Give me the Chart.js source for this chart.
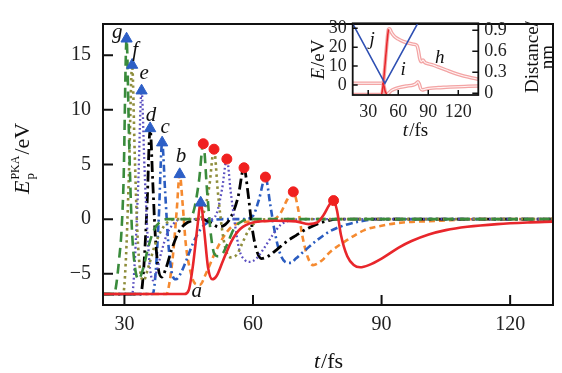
<!DOCTYPE html>
<html>
<head>
<meta charset="utf-8">
<script src="https://cdn.jsdelivr.net/npm/chart.js@4.4.0/dist/chart.umd.min.js"></script>
<style>
  html, body { margin: 0; padding: 0; background: #fff; }
  #wrap { position: relative; width: 562px; height: 373px; }
  #main { position: absolute; left: 0; top: 0; }
  #inset { position: absolute; left: 290px; top: 0; }
</style>
</head>
<body>
<div id="wrap">
  <canvas id="main" width="562" height="373"></canvas>
  <canvas id="inset" width="272" height="145"></canvas>
</div>
<script>
// ---- main plot data (t in fs, E in eV) ----
const tA = [25,44,45,46,47,47.8,48.6,49.5,50.5,51.5,53,55,57,60,65,70,73,75,76.5,77.8,78.8,79.6,80.5,82,83.5,85,87,90,94,97,101,105,110,117,124,130];
const eA = [-6.85,-6.85,-6.5,-4.2,-0.8,1.5,-1,-4.4,-5.5,-5.2,-3.8,-2,-0.9,-0.3,-0.15,-0.2,-0.45,-0.3,0.4,1.3,1.7,0.8,-1.4,-3.4,-4.2,-4.4,-4.2,-3.6,-2.6,-2,-1.4,-1,-0.7,-0.45,-0.3,-0.22];

const tB = [25,39.8,40.6,41.4,42.2,42.9,43.6,44.3,45.3,46.5,47.6,49,51,53,55,58,62,65,66.5,68,69.4,70.5,71.5,72.8,74,76,78,82,86,90,95,100,106,112,130];
const eB = [-6.85,-6.85,-5.6,-3,0.8,4.1,1.3,-2.2,-4.6,-5.9,-6.0,-5.0,-3.2,-1.7,-0.7,-0.25,-0.2,0,0.6,1.8,2.5,1,-1.5,-3.5,-4.2,-3.8,-3.0,-1.9,-1.0,-0.6,-0.3,-0.2,-0.1,0,0];

const tC = [25,36.6,37.3,38,38.8,39.5,40.2,41,42,43.2,44.6,46,48,50,53,58,60,61.4,62.9,64,65,66.2,67.5,68.8,70,72,75,78,81,85,90,130];
const eC = [-6.85,-6.85,-4.8,0,7.0,2.5,-2,-4.8,-5.5,-4.9,-3.6,-2.2,-0.8,-0.2,0,0,0.3,1.8,3.85,1.4,-1,-3,-3.9,-4.0,-3.6,-2.9,-1.9,-1.1,-0.6,-0.2,0,0];

const tD = [25,33.8,34.5,35.3,36.0,36.6,37.2,37.9,38.7,39.6,41,42.5,44,46,48,50,52,53.5,55,56.5,57.9,58.8,59.8,60.8,62,63.5,65.5,68,70,72.5,76,80,130];
const eD = [-6.85,-6.85,-4.5,1.5,8.3,3.5,-1.5,-4.5,-5.3,-4.6,-2.8,-1.3,-0.5,-0.1,0,-0.3,-0.7,-0.5,0.3,2,4.7,2.5,-0.8,-2.8,-3.6,-3.4,-2.8,-2,-1.5,-0.9,-0.3,0,0];

const tE = [25,31.8,32.4,33.2,34.0,34.7,35.4,36.0,36.7,37.5,38.7,40,41.5,43,50,51.5,52.8,53.9,54.8,55.8,56.8,58,59.3,60.8,62.5,64.5,66.5,69,72,130];
const eE = [-6.85,-6.85,-4,3,11.75,4.5,-1.5,-4.6,-5.6,-4.8,-2.9,-1.3,-0.4,0,0,0.5,2.8,5.5,2.5,-0.5,-2.8,-3.7,-3.9,-3.6,-2.7,-1.5,-0.5,-0.1,0,0];

const tF = [25,29.7,30.3,31.0,31.8,32.4,33.0,33.7,34.5,35.5,37,38.5,40,42,47,48.5,49.8,50.9,51.8,52.8,53.8,55,56.3,57.5,59,61,64,130];
const eF = [-6.85,-6.85,-4,3.5,14.1,6,-1,-4.8,-5.6,-4.5,-2.5,-1.1,-0.3,0,0,0.6,3,6.4,2.5,-1,-3.0,-3.5,-3.2,-2.2,-1,-0.2,0,0];

const tG = [25,27.6,28.2,28.8,29.3,29.8,30.5,31.1,31.7,32.4,33.3,34.3,35.6,37,38.5,40,45,46.2,47.4,48.4,49.3,50.2,51,52,53,54.3,55.5,57,59,130];
const eG = [-6.85,-6.85,-5.7,-3.5,-1.2,3.5,16.5,7,-0.5,-4.2,-5.5,-4.6,-2.5,-0.9,-0.2,0,0,0.8,3.5,6.9,2.5,-1.5,-3.2,-3.4,-3.1,-2.0,-0.9,-0.3,0,0];

// first collision peaks (triangles) and second collision peaks (circles), order g..a
const peak1T = [30.5, 31.8, 34.0, 36.0, 38.8, 42.9, 47.8];
const peak1E = [16.5, 14.1, 11.75, 8.3, 7.0, 4.1, 1.5];
const peak2T = [48.4, 50.9, 53.9, 57.9, 62.9, 69.4, 78.8];
const peak2E = [6.9, 6.4, 5.5, 4.7, 3.85, 2.5, 1.7];

const curveNames = ['g', 'f', 'e', 'd', 'c', 'b', 'a'];
const labelT = [28.3, 32.5, 34.6, 36.2, 39.5, 43.2, 46.9];
const labelE = [17.1, 15.4, 13.3, 9.5, 8.4, 5.7, -6.65];

const xTicks = [30, 60, 90, 120];
const yTicks = [-5, 0, 5, 10, 15];

// ---- inset data ----
const tH = [14.5,43.5,45,47,49,50.2,51.5,53,56,60,65,70,75,78.5,80,81.5,83,84.7,86.5,90,95,100,108,115,122,130,140];
const eH = [-5,-5,0,12,24,29.5,29.8,28,25.8,24.3,23,22.2,21.6,21,18.5,14,12.3,13.2,12,11.2,10.5,9.5,7.9,6.5,5.3,4.2,3];
const tI = [14.5,44,45.5,47,48.5,50,53,57,62,68,75,78,79.7,81,82.5,84,87,92,100,108,120,130,140];
const eI = [0.9,0.9,0,-3.5,-5,-4.5,-3,-2,-1.2,-0.6,0,0.8,1.7,0.5,-2,-2.6,-2.2,-1.7,-1.4,-1.2,-0.9,-0.7,-0.5];
const tJ = [14.3, 46.7, 79.5];
const dJ = [1.0, 0.14, 1.0];

const insetXTicks = [30, 60, 90, 120];
const insetETicks = [0, 10, 20, 30];
const insetDTicks = [0, 0.3, 0.6, 0.9];

function pts(t, v) { return t.map((x, i) => ({ x: x, y: v[i] })); }

const SERIF = "'Liberation Serif', 'DejaVu Serif', serif";

function lineSet(t, v, color, dash, width, order) {
    return {
        data: pts(t, v),
        borderColor: color,
        borderWidth: width,
        borderDash: dash,
        pointRadius: 0,
        fill: false,
        cubicInterpolationMode: 'monotone',
        order: order
    };
}

// frame and inward ticks
function drawFrame(ctx, area, lw) {
    ctx.save();
    ctx.strokeStyle = '#111';
    ctx.lineWidth = lw;
    ctx.strokeRect(area.left, area.top, area.right - area.left, area.bottom - area.top);
    ctx.restore();
}
function drawTicks(ctx, scale, values, len, lw, side) {
    ctx.save();
    ctx.strokeStyle = '#111';
    ctx.lineWidth = lw;
    ctx.beginPath();
    values.forEach(v => {
        const p = scale.getPixelForValue(v);
        if (side === 'bottom') { ctx.moveTo(p, scale.top); ctx.lineTo(p, scale.top - len); }
        if (side === 'left') { ctx.moveTo(scale.right, p); ctx.lineTo(scale.right + len, p); }
        if (side === 'right') { ctx.moveTo(scale.left, p); ctx.lineTo(scale.left - len, p); }
    });
    ctx.stroke();
    ctx.restore();
}
function italicThenPlain(ctx, x, y, ital, plain, size) {
    ctx.font = 'italic ' + size + 'px ' + SERIF;
    ctx.textBaseline = 'alphabetic';
    ctx.textAlign = 'left';
    const w1 = ctx.measureText(ital).width;
    ctx.font = size + 'px ' + SERIF;
    const w2 = ctx.measureText(plain).width;
    const x0 = x - (w1 + w2) / 2;
    ctx.font = 'italic ' + size + 'px ' + SERIF;
    ctx.fillText(ital, x0, y);
    ctx.font = size + 'px ' + SERIF;
    ctx.fillText(plain, x0 + w1 + 1, y);
}

const mainDecor = {
    id: 'mainDecor',
    afterDraw(chart) {
        const ctx = chart.ctx, a = chart.chartArea;
        const xs = chart.scales.x, ys = chart.scales.y;
        drawFrame(ctx, a, 2);
        drawTicks(ctx, xs, xTicks, 10, 2, 'bottom');
        drawTicks(ctx, ys, yTicks, 10, 2, 'left');

        // curve letters
        ctx.save();
        ctx.fillStyle = '#111';
        ctx.font = 'italic 21px ' + SERIF;
        ctx.textAlign = 'center';
        ctx.textBaseline = 'middle';
        curveNames.forEach((n, i) => {
            ctx.fillText(n, xs.getPixelForValue(labelT[i]), ys.getPixelForValue(labelE[i]));
        });
        ctx.restore();

        // x title
        ctx.save();
        ctx.fillStyle = '#111';
        italicThenPlain(ctx, 328, 368, 't', '/fs', 22);
        ctx.restore();

        // y title: E_p^PKA/eV rotated
        ctx.save();
        ctx.fillStyle = '#111';
        ctx.translate(29, 194);
        ctx.rotate(-Math.PI / 2);
        ctx.textBaseline = 'alphabetic';
        ctx.font = 'italic 22px ' + SERIF;
        ctx.fillText('E', 0, 0);
        let x = ctx.measureText('E').width + 1;
        ctx.font = '12px ' + SERIF;
        ctx.fillText('PKA', x, -10);
        const wSup = ctx.measureText('PKA').width;
        ctx.font = '13px ' + SERIF;
        ctx.fillText('p', x, 5);
        x += wSup + 1;
        ctx.font = '22px ' + SERIF;
        ctx.fillText('/eV', x, 0);
        ctx.restore();
    }
};

const mainChart = new Chart(document.getElementById('main').getContext('2d'), {
    type: 'line',
    data: {
        datasets: [
            lineSet(tG, eG, '#3a8b3c', [10, 6], 2.6, 2),
            lineSet(tF, eF, '#8e8d3b', [2.5, 3.5], 2.6, 3),
            lineSet(tE, eE, '#5a4fc0', [1.8, 2.6], 2.3, 4),
            lineSet(tD, eD, '#000000', [11, 4, 2.5, 4], 2.8, 5),
            lineSet(tC, eC, '#2a5cc0', [7, 3.5, 2, 3.5], 2.6, 6),
            lineSet(tB, eB, '#f58a30', [6, 4], 2.6, 7),
            lineSet(tA, eA, '#e8262b', [], 2.6, 1),
            {
                data: pts(peak1T, peak1E), showLine: false,
                pointStyle: 'triangle', pointRadius: 6.5,
                backgroundColor: '#2d5fc6', borderColor: '#2d5fc6', order: 0
            },
            {
                data: pts(peak2T, peak2E), showLine: false,
                pointStyle: 'circle', pointRadius: 5,
                backgroundColor: '#f0201f', borderColor: '#f0201f', order: 0
            }
        ]
    },
    options: {
        responsive: false,
        animation: false,
        layout: { padding: { top: 6, right: 9, left: 0, bottom: 0 } },
        plugins: { legend: { display: false }, tooltip: { enabled: false } },
        scales: {
            x: {
                type: 'linear', min: 25, max: 130,
                afterBuildTicks: s => { s.ticks = xTicks.map(v => ({ value: v })); },
                afterFit: s => { s.height = 68; },
                grid: { display: false, drawTicks: false },
                border: { display: false },
                ticks: { color: '#222', padding: 8, maxRotation: 0, autoSkip: false, font: { family: SERIF, size: 20 } }
            },
            y: {
                type: 'linear', min: -7.85, max: 17.85,
                afterBuildTicks: s => { s.ticks = yTicks.map(v => ({ value: v })); },
                afterFit: s => { s.width = 103; },
                grid: { display: false, drawTicks: false },
                border: { display: false },
                ticks: {
                    color: '#222', padding: 12, autoSkip: false, font: { family: SERIF, size: 20 },
                    callback: v => (v < 0 ? '\u2212' + Math.abs(v) : String(v))
                }
            }
        }
    },
    plugins: [mainDecor]
});

// ---- inset ----
const insetDecor = {
    id: 'insetDecor',
    afterDraw(chart) {
        const ctx = chart.ctx, a = chart.chartArea;
        const xs = chart.scales.x, ye = chart.scales.yE, yd = chart.scales.yD;
        drawFrame(ctx, a, 1.8);
        drawTicks(ctx, xs, insetXTicks, 5, 1.5, 'bottom');
        drawTicks(ctx, ye, insetETicks, 5, 1.5, 'left');
        drawTicks(ctx, yd, insetDTicks, 6, 1.5, 'right');

        ctx.save();
        ctx.fillStyle = '#111';
        ctx.font = 'italic 19px ' + SERIF;
        ctx.textAlign = 'center';
        ctx.textBaseline = 'middle';
        ctx.fillText('j', xs.getPixelForValue(34), ye.getPixelForValue(23.8));
        ctx.fillText('h', xs.getPixelForValue(101.5), ye.getPixelForValue(14.1));
        ctx.fillText('i', xs.getPixelForValue(65), ye.getPixelForValue(7.9));
        ctx.restore();

        ctx.save();
        ctx.fillStyle = '#111';
        italicThenPlain(ctx, 125, 136, 't', '/fs', 19);
        ctx.restore();

        // left title E/eV
        ctx.save();
        ctx.fillStyle = '#111';
        ctx.translate(34, 60);
        ctx.rotate(-Math.PI / 2);
        italicThenPlain(ctx, 0, 0, 'E', '/eV', 19);
        ctx.restore();

        // right title Distance/ nm
        ctx.save();
        ctx.fillStyle = '#111';
        ctx.font = '19px ' + SERIF;
        ctx.textAlign = 'center';
        ctx.textBaseline = 'middle';
        ctx.translate(243, 57);
        ctx.rotate(-Math.PI / 2);
        ctx.fillText('Distance/', 0, 0);
        ctx.fillText('nm', 0, 15);
        ctx.restore();
    }
};

function within(t, v, lo, hi) {
    const tt = [], vv = [];
    t.forEach((x, i) => { if (x >= lo && x <= hi) { tt.push(x); vv.push(v[i]); } });
    return pts(tt, vv);
}

function tube(t, v, color, width, order) {
    return {
        data: pts(t, v), yAxisID: 'yE',
        borderColor: color, borderWidth: width, pointRadius: 0,
        cubicInterpolationMode: 'monotone', order: order
    };
}

const insetChart = new Chart(document.getElementById('inset').getContext('2d'), {
    type: 'line',
    data: {
        datasets: [
            tube(tH, eH, '#f3a4a4', 3.6, 6),
            tube(tH, eH, '#fff3f3', 1.1, 5),
            tube(tI, eI, '#f3a4a4', 3.6, 4),
            tube(tI, eI, '#fff3f3', 1.1, 3),
            { data: within(tH, eH, 43.5, 50.2), yAxisID: 'yE', borderColor: '#e8262b', borderWidth: 1.6, pointRadius: 0, order: 2 },
            { data: within(tI, eI, 44, 48.5), yAxisID: 'yE', borderColor: '#e8262b', borderWidth: 1.6, pointRadius: 0, order: 2 },
            { data: pts(tJ, dJ), yAxisID: 'yD', borderColor: '#2f50b3', borderWidth: 1.6, pointRadius: 0, order: 1 }
        ]
    },
    options: {
        responsive: false,
        animation: false,
        layout: { padding: { top: 23.3, right: 0, left: 0, bottom: 0 } },
        plugins: { legend: { display: false }, tooltip: { enabled: false } },
        scales: {
            x: {
                type: 'linear', min: 14.5, max: 140,
                afterBuildTicks: s => { s.ticks = insetXTicks.map(v => ({ value: v })); },
                afterFit: s => { s.height = 50; },
                grid: { display: false, drawTicks: false },
                border: { display: false },
                ticks: { color: '#222', padding: 6, maxRotation: 0, autoSkip: false, font: { family: SERIF, size: 18 } }
            },
            yE: {
                type: 'linear', position: 'left', min: -5.3, max: 32.65,
                afterBuildTicks: s => { s.ticks = insetETicks.map(v => ({ value: v })); },
                afterFit: s => { s.width = 62.7; },
                grid: { display: false, drawTicks: false },
                border: { display: false },
                ticks: { color: '#222', padding: 6, autoSkip: false, font: { family: SERIF, size: 18 } }
            },
            yD: {
                type: 'linear', position: 'right', min: -0.026, max: 1.0,
                afterBuildTicks: s => { s.ticks = insetDTicks.map(v => ({ value: v })); },
                afterFit: s => { s.width = 83.7; },
                grid: { display: false, drawTicks: false },
                border: { display: false },
                ticks: {
                    color: '#222', padding: 6, autoSkip: false, font: { family: SERIF, size: 18 },
                    callback: v => (v === 0 ? '0' : v.toFixed(1))
                }
            }
        }
    },
    plugins: [insetDecor]
});
</script>
</body>
</html>
